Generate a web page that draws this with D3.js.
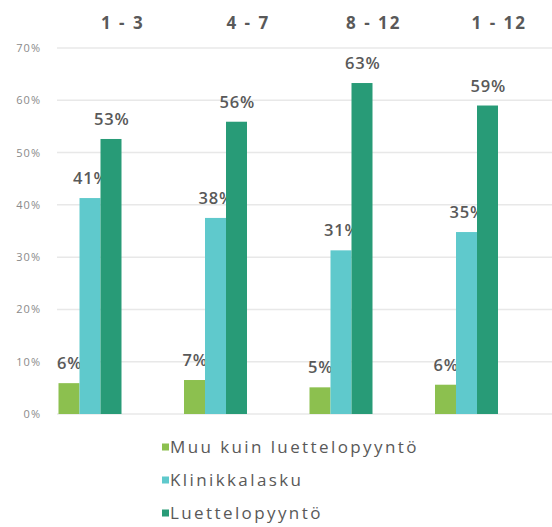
<!DOCTYPE html>
<html>
<head>
<meta charset="utf-8">
<script src="https://cdn.jsdelivr.net/npm/d3@7"></script>
<style>
  html, body { margin: 0; padding: 0; background: #fff; }
  svg { display: block; }
</style>
</head>
<body>
<svg id="chart" width="552" height="527"></svg>
<script>
const groups = ["1 - 3", "4 - 7", "8 - 12", "1 - 12"];
const seriesNames = ["Muu kuin luettelopyyntö", "Klinikkalasku", "Luettelopyyntö"];
const muuValues = [0.059, 0.065, 0.051, 0.056];
const klinikkaValues = [0.413, 0.375, 0.313, 0.348];
const luetteloValues = [0.526, 0.559, 0.633, 0.590];
const valueLabels = [
  ["6%", "7%", "5%", "6%"],
  ["41%", "38%", "31%", "35%"],
  ["53%", "56%", "63%", "59%"]
];
const tickValues = [0, 0.1, 0.2, 0.3, 0.4, 0.5, 0.6, 0.7];
const colors = ["#8cc04f", "#5fc9cc", "#289b77"];

const seriesValues = [muuValues, klinikkaValues, luetteloValues];

const svg = d3.select("#chart");
const font = "'Open Sans', 'Noto Sans', sans-serif";

const y = d3.scaleLinear().domain([0, 0.7]).range([414, 48]);
const x0 = d3.scaleBand().domain(groups).range([57, 559]);
const x1 = d3.scaleBand().domain(seriesNames).range([1.5, 64.5]);

// gridlines
svg.append("g").selectAll("line").data(tickValues).join("line")
  .attr("x1", 57).attr("x2", 552)
  .attr("y1", d => y(d)).attr("y2", d => y(d))
  .attr("stroke", "#e8e8e8").attr("stroke-width", 1.5);

// y axis labels
const yAxis = d3.axisLeft(y).tickValues(tickValues)
  .tickFormat(d3.format(".0%")).tickSize(0).tickPadding(16);
const yg = svg.append("g").attr("transform", "translate(57,0)").call(yAxis);
yg.select(".domain").remove();
yg.selectAll("text")
  .attr("font-family", font).attr("font-size", 11)
  .attr("letter-spacing", "1px")
  .attr("fill", "#8a8a8a");

// bars
const gGroups = svg.append("g").selectAll("g").data(groups).join("g")
  .attr("transform", d => `translate(${x0(d)},0)`);

gGroups.each(function(g, gi) {
  const sel = d3.select(this);
  seriesNames.forEach((s, si) => {
    const v = seriesValues[si][gi];
    sel.append("rect")
      .attr("x", x1(s))
      .attr("width", x1.bandwidth())
      .attr("y", y(v))
      .attr("height", y(0) - y(v))
      .attr("fill", colors[si]);
    sel.append("text")
      .attr("x", x1(s) + x1.bandwidth() / 2 + 0.7)
      .attr("y", y(v) - 14)
      .attr("text-anchor", "middle")
      .attr("font-family", font)
      .attr("font-size", 16.5)
      .attr("font-weight", 600)
      .attr("letter-spacing", "0.8px")
      .attr("fill", "#595959")
      .text(valueLabels[si][gi]);
  });
});

// headers
svg.append("g").selectAll("text").data(groups).join("text")
  .attr("x", d => x0(d) + x0.bandwidth() / 2 + 3)
  .attr("y", 29)
  .attr("text-anchor", "middle")
  .attr("font-family", font)
  .attr("font-size", 17)
  .attr("font-weight", 700)
  .attr("letter-spacing", "2px")
  .attr("fill", "#595959")
  .text(d => d);

// legend
const legendY = d3.scalePoint().domain(seriesNames).range([447, 513]);
const leg = svg.append("g").selectAll("g").data(seriesNames).join("g")
  .attr("transform", d => `translate(162,${legendY(d)})`);
leg.append("rect")
  .attr("x", 0).attr("y", -3.5).attr("width", 7).attr("height", 7)
  .attr("fill", (d, i) => colors[i]);
leg.append("text")
  .attr("x", 8).attr("y", 0).attr("dy", "0.36em")
  .attr("font-family", font)
  .attr("font-size", 17)
  .attr("letter-spacing", "2.4px")
  .attr("fill", "#595959")
  .text(d => d);
</script>
</body>
</html>
